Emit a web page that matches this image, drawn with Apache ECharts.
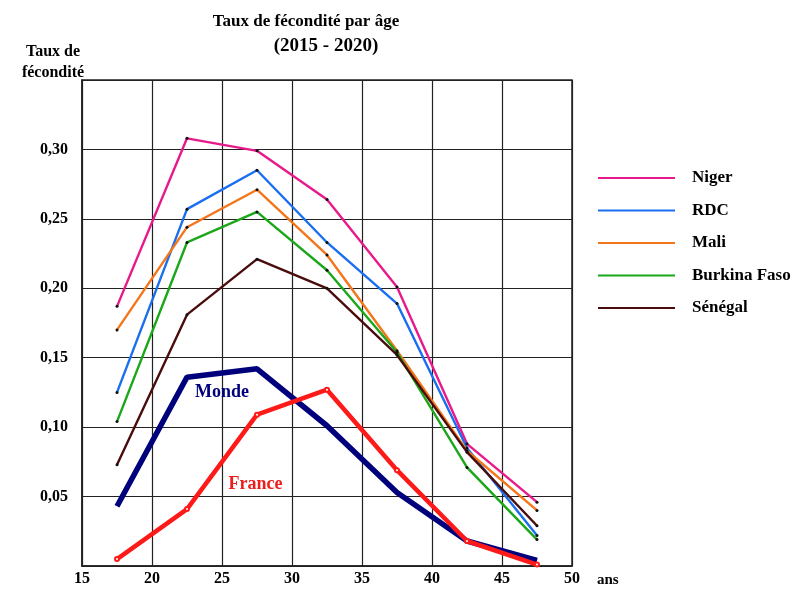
<!DOCTYPE html>
<html><head><meta charset="utf-8">
<script src="https://cdn.jsdelivr.net/npm/echarts@6/dist/echarts.min.js"></script>
<style>html,body{margin:0;padding:0;background:#fff}#c{width:809px;height:590px}</style>
</head><body><div id="c"></div>
<script>
const ages = [17.5, 22.5, 27.5, 32.5, 37.5, 42.5, 47.5];
const xTicks = [15, 20, 25, 30, 35, 40, 45, 50];
const yTicks = [0.05, 0.10, 0.15, 0.20, 0.25, 0.30];
const niger    = [0.187, 0.308, 0.299, 0.264, 0.201, 0.088, 0.046];
const rdc      = [0.125, 0.257, 0.285, 0.233, 0.189, 0.085, 0.022];
const mali     = [0.170, 0.244, 0.271, 0.224, 0.155, 0.083, 0.040];
const burkina  = [0.104, 0.233, 0.255, 0.213, 0.154, 0.071, 0.019];
const senegal  = [0.073, 0.181, 0.221, 0.200, 0.152, 0.082, 0.029];
const monde    = [0.043, 0.136, 0.142, 0.101, 0.053, 0.018, 0.004];
const france   = [0.005, 0.041, 0.109, 0.127, 0.069, 0.018, 0.001];

const FONT = '"Liberation Serif", "DejaVu Serif", serif';
const pair = arr => ages.map((a, i) => [a, arr[i]]);

const thin = [
  {name: 'Niger', data: niger, color: '#e8198b'},
  {name: 'RDC', data: rdc, color: '#1a6ef0'},
  {name: 'Mali', data: mali, color: '#f5761a'},
  {name: 'Burkina Faso', data: burkina, color: '#1aa81a'},
  {name: 'Sénégal', data: senegal, color: '#4a0d0d'}
];

const series = thin.map(s => ({
  name: s.name, type: 'line', data: pair(s.data),
  symbol: 'circle', symbolSize: 3, showSymbol: true,
  itemStyle: {color: '#111'},
  lineStyle: {color: s.color, width: 2.4},
  emphasis: {disabled: true}, z: 3
}));

series.push({
  name: 'Monde', type: 'line', data: pair(monde),
  symbol: 'none', lineStyle: {color: '#00007d', width: 5.5},
  itemStyle: {color: '#00007d'}, emphasis: {disabled: true}, z: 4,
  markPoint: {symbol: 'circle', symbolSize: 0, silent: true,
    data: [{coord: [25, 0.125], value: 'Monde'}],
    label: {show: true, position: 'inside', formatter: 'Monde', color: '#00007d',
      fontFamily: FONT, fontWeight: 'bold', fontSize: 18}}
});
series.push({
  name: 'France', type: 'line', data: pair(france),
  symbol: 'emptyCircle', symbolSize: 4, itemStyle: {color: '#ff1a1a', borderColor: '#6a1010', borderWidth: 1},
  lineStyle: {color: '#ff1a1a', width: 4.5}, emphasis: {disabled: true}, z: 5,
  markPoint: {symbol: 'circle', symbolSize: 0, silent: true,
    data: [{coord: [27.4, 0.059], value: 'France'}],
    label: {show: true, position: 'inside', formatter: 'France', color: '#ee1c1c',
      fontFamily: FONT, fontWeight: 'bold', fontSize: 18}}
});

const chart = echarts.init(document.getElementById('c'), null, {renderer: 'canvas'});
chart.setOption({
  animation: false,
  backgroundColor: '#fff',
  title: [
    {text: 'Taux de fécondité par âge', left: 301, top: 8, textAlign: 'center',
     textStyle: {fontFamily: FONT, fontWeight: 'bold', fontSize: 17, color: '#000'}},
    {text: '(2015 - 2020)', left: 321, top: 32, textAlign: 'center',
     textStyle: {fontFamily: FONT, fontWeight: 'bold', fontSize: 19, color: '#000'}},
    {text: 'Taux de\nfécondité', left: 48, top: 36, textAlign: 'center',
     textStyle: {fontFamily: FONT, fontWeight: 'bold', fontSize: 16, lineHeight: 21, color: '#000'}}
  ],
  legend: {
    orient: 'vertical', left: 593, top: 163, itemWidth: 77, itemHeight: 2, itemGap: 12.5,
    icon: 'rect', selectedMode: false,
    data: thin.map(s => ({name: s.name, itemStyle: {color: s.color, borderWidth: 0}})),
    textStyle: {fontFamily: FONT, fontWeight: 'bold', fontSize: 17, lineHeight: 20, color: '#000', padding: [0, 0, 0, 12]}
  },
  grid: {left: 82, right: 237, top: 80, bottom: 24, show: true, borderColor: '#222', borderWidth: 1.5},
  xAxis: {
    type: 'value', min: 15, max: 50, interval: 5,
    name: 'ans', nameLocation: 'end', nameGap: 25,
    nameTextStyle: {fontFamily: FONT, fontWeight: 'bold', fontSize: 15, color: '#000', verticalAlign: 'top', padding: [7, 0, 0, 0]},
    axisLine: {show: true, lineStyle: {color: '#222', width: 1.5}},
    axisTick: {show: false},
    axisLabel: {margin: 5, fontFamily: FONT, fontWeight: 'bold', fontSize: 16, color: '#000',
      formatter: v => xTicks.includes(v) ? String(v) : ''},
    splitLine: {show: true, lineStyle: {color: '#222', width: 1.2}}
  },
  yAxis: {
    type: 'value', min: 0, max: 0.35, interval: 0.05,
    axisLine: {show: true, lineStyle: {color: '#222', width: 1.5}},
    axisTick: {show: false},
    axisLabel: {margin: 14, fontFamily: FONT, fontWeight: 'bold', fontSize: 16, color: '#000',
      formatter: v => {
        const t = yTicks.find(y => Math.abs(y - v) < 1e-6);
        return t === undefined ? '' : t.toFixed(2).replace('.', ',');
      }},
    splitLine: {show: true, lineStyle: {color: '#222', width: 1.2}}
  },
  series: series
});
</script></body></html>
